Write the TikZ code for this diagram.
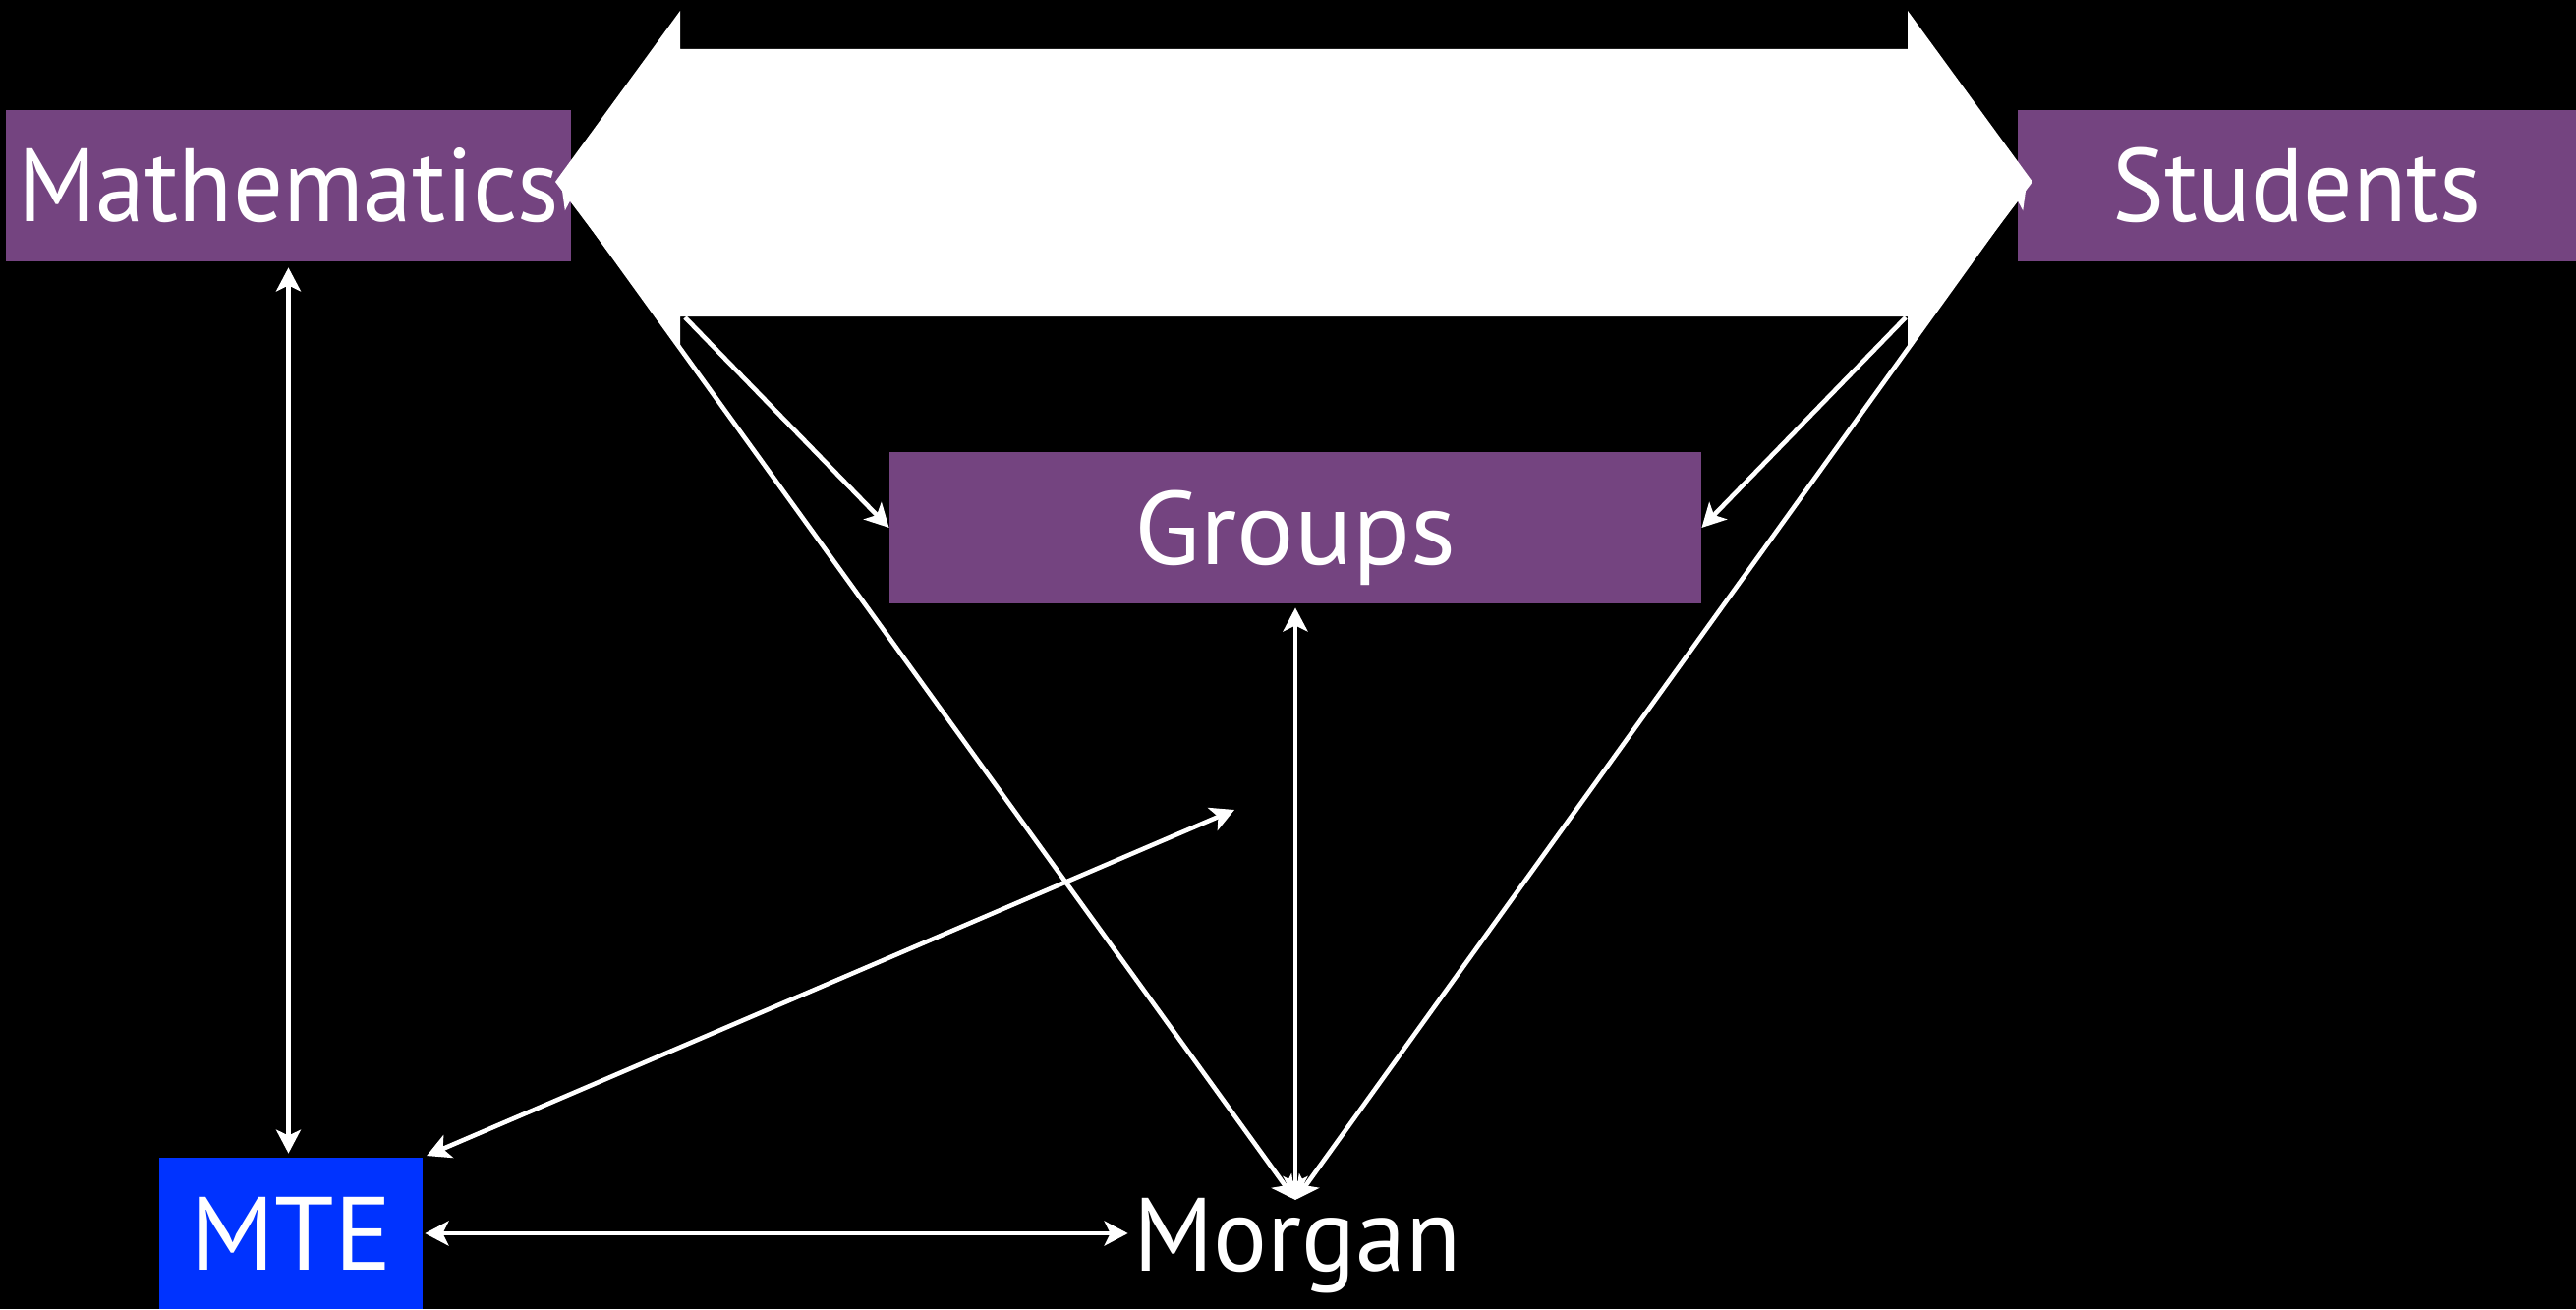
\documentclass[tikz,border=0pt]{standalone}
\usepackage{fontspec}
\setmainfont{PT Sans}
\usetikzlibrary{arrows.meta,calc}
\definecolor{plum}{RGB}{116,68,128}
\definecolor{mteblue}{RGB}{0,51,255}
\begin{document}
\begin{tikzpicture}[x=0.5pt,y=-0.5pt,
  >={Stealth[length=12pt,width=12.5pt,inset=3pt]},
  lbl/.style={text=white,inner sep=0pt,font=\fontsize{53}{60}\selectfont,text height=37pt,text depth=0pt},
  box/.style={lbl,fill=plum,minimum height=77pt},
  con/.style={draw=white,line width=2.3pt}]
\useasboundingbox (0,0) rectangle (2621,1332);
\fill[black] (0,0) rectangle (2621,1332);
% nodes
\node[box,minimum width=287.5pt] (math) at (293.5,189) {\scalebox{0.95}[1]{Mathematics}};
\node[box,minimum width=284pt] (stud) at (2337,189) {\scalebox{0.94}[1]{Students}};
\node[box,minimum width=413pt] (groups) at (1318,537) {\scalebox{1.03}[1]{Groups}};
\node[box,fill=mteblue,minimum width=134pt] (mte) at (296,1255) {\scalebox{1.03}[1]{MTE}};
\node[lbl,anchor=base] (morgan) at (1320,1293) {\scalebox{0.97}[1]{Morgan}};
% coordinates
\coordinate (lt) at (571,187);
\coordinate (rt) at (2062,187);
\coordinate (a1) at (697,323);
\coordinate (a2) at (1939,323);
\coordinate (free) at (1256,824);
\coordinate (hub) at (1318,1221);
% lines hidden partly under big arrow
\draw[con,<->] (hub) -- (lt);
\draw[con,<->] (hub) -- (rt);
% big double arrow
\fill[white] (565,185) -- (692,11) -- (692,50) -- (1941,50) -- (1941,11) -- (2068,185)
  -- (1941,353) -- (1941,322) -- (692,322) -- (692,353) -- cycle;
% connectors
\draw[con,->] (a1) -- (groups.west);
\draw[con,->] (a2) -- (groups.east);
\draw[con,<->,shorten <=2pt] (groups.south) -- (hub);
\draw[con,<->,shorten <=3pt,shorten >=2pt] (math.south) -- (math.south |- mte.north);
\draw[con,<->,shorten <=1pt,shorten >=2.5pt] (mte.east) -- (mte.east -| morgan.west);
\draw[con,<->,shorten <=2pt] (mte.north east) -- (free);
\end{tikzpicture}
\end{document}
